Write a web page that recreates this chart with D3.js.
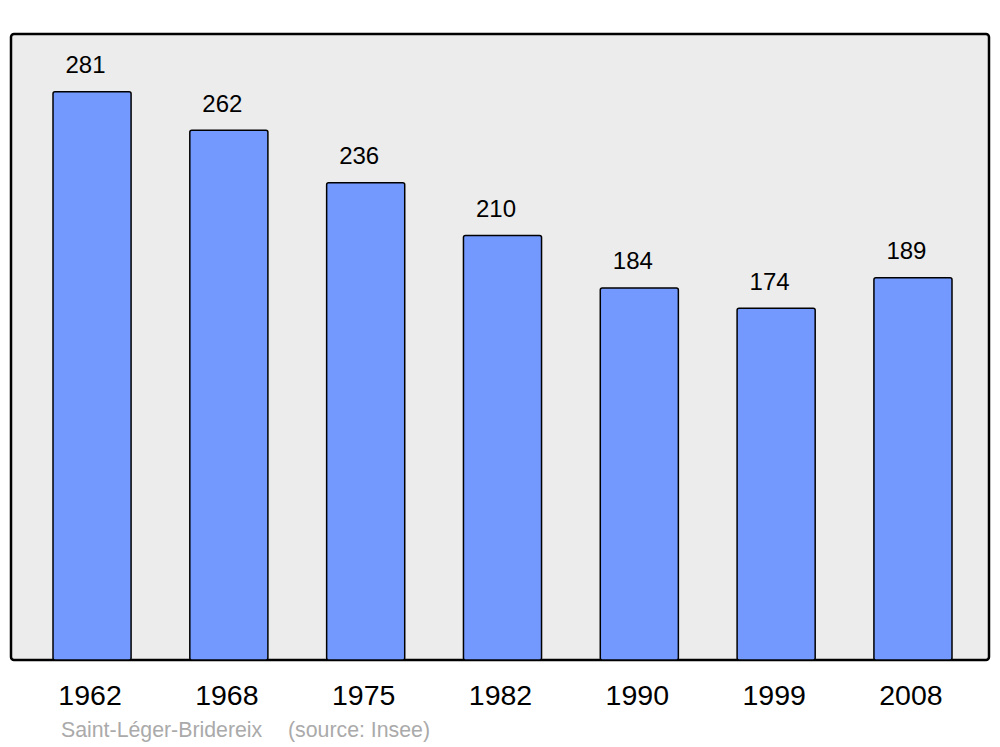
<!DOCTYPE html>
<html><head><meta charset="utf-8">
<script src="https://cdn.jsdelivr.net/npm/d3@7"></script>
<style>body{margin:0;background:#fff}svg{display:block}</style>
</head><body>
<script>
const years = ["1962","1968","1975","1982","1990","1999","2008"];
const population = [281,262,236,210,184,174,189];
const commune = "Saint-Léger-Bridereix";
const source = "(source: Insee)";

const W = 1000, H = 747;
const plot = {x0: 11, x1: 989, y0: 34, y1: 660};
const svg = d3.select("body").append("svg").attr("width", W).attr("height", H);

svg.append("rect").attr("x", plot.x0).attr("y", plot.y0)
  .attr("width", plot.x1 - plot.x0).attr("height", plot.y1 - plot.y0)
  .attr("rx", 3).attr("fill", "#ececec").attr("stroke", "#000").attr("stroke-width", 2.5);

const x = d3.scaleBand().domain(years).range([52.5, 952.5]).paddingInner(0.422).paddingOuter(0);
const y = d3.scaleLinear().domain([0, 309.6]).range([plot.y1, plot.y0]);

const g = svg.append("g");
g.selectAll("rect.bar").data(years).join("rect").attr("class","bar")
  .attr("x", d => x(d) + 0.5).attr("width", x.bandwidth() - 1)
  .attr("y", (d,i) => y(population[i])).attr("height", (d,i) => plot.y1 - y(population[i]))
  .attr("rx", 2).attr("fill", "#7399ff").attr("stroke", "#000").attr("stroke-width", 1.5);

g.selectAll("text.val").data(years).join("text").attr("class","val")
  .attr("x", d => x(d) + x.bandwidth()/2 - 6.5)
  .attr("y", (d,i) => y(population[i]) - 18.5)
  .attr("text-anchor", "middle").attr("font-family", "Liberation Sans, Arial, sans-serif")
  .attr("font-size", 24).attr("fill", "#000").text((d,i) => population[i]);

const xAxis = d3.axisBottom(x).tickSize(0).tickPadding(0);
const ax = svg.append("g").attr("transform", `translate(-2,${plot.y1})`).call(xAxis);
ax.select(".domain").remove();
ax.selectAll("text").attr("dy", null).attr("y", 45)
  .attr("font-family", "Liberation Sans, Arial, sans-serif").attr("font-size", 28.5).attr("fill", "#000");

svg.append("text").attr("x", 61).attr("y", 737).attr("font-family", "Liberation Sans, Arial, sans-serif")
  .attr("font-size", 21.3).attr("fill", "#aaaaaa").text(commune);
svg.append("text").attr("x", 288).attr("y", 737).attr("font-family", "Liberation Sans, Arial, sans-serif")
  .attr("font-size", 21.3).attr("fill", "#aaaaaa").text(source);
</script>
</body></html>
